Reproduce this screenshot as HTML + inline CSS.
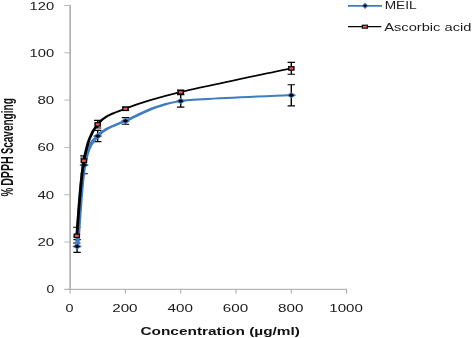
<!DOCTYPE html><html><head><meta charset="utf-8"><style>html,body{margin:0;padding:0;background:#fff}svg{display:block;will-change:transform}</style></head><body><svg width="472" height="338" viewBox="0 0 472 338">
<rect width="100%" height="100%" fill="#fff"/>
<g stroke="#a6a6a6" fill="none">
<line x1="70.1" y1="4.8" x2="70.1" y2="289.6" stroke-width="1.7" stroke="#b2b2b2"/>
<line x1="64.3" y1="289.3" x2="347.0" y2="289.3" stroke-width="1"/>
<line x1="64.3" y1="242.00" x2="70" y2="242.00" stroke-width="1" stroke="#b8b8b8"/>
<line x1="64.3" y1="194.70" x2="70" y2="194.70" stroke-width="1" stroke="#b8b8b8"/>
<line x1="64.3" y1="147.40" x2="70" y2="147.40" stroke-width="1" stroke="#b8b8b8"/>
<line x1="64.3" y1="100.10" x2="70" y2="100.10" stroke-width="1" stroke="#b8b8b8"/>
<line x1="64.3" y1="52.80" x2="70" y2="52.80" stroke-width="1" stroke="#b8b8b8"/>
<line x1="64.3" y1="5.50" x2="70" y2="5.50" stroke-width="1" stroke="#b8b8b8"/>
<line x1="70.10" y1="289.3" x2="70.10" y2="293.6" stroke-width="1"/>
<line x1="125.40" y1="289.3" x2="125.40" y2="293.6" stroke-width="1"/>
<line x1="180.70" y1="289.3" x2="180.70" y2="293.6" stroke-width="1"/>
<line x1="236.00" y1="289.3" x2="236.00" y2="293.6" stroke-width="1"/>
<line x1="291.30" y1="289.3" x2="291.30" y2="293.6" stroke-width="1"/>
<line x1="346.60" y1="289.3" x2="346.60" y2="293.6" stroke-width="1"/>
</g>
<g font-family="Liberation Sans, sans-serif" font-size="10.6" fill="#1a1a1a">
<text x="46.40" y="293.30" textLength="7.8" lengthAdjust="spacingAndGlyphs">0</text>
<text x="37.50" y="246.00" textLength="16.7" lengthAdjust="spacingAndGlyphs">20</text>
<text x="37.50" y="198.70" textLength="16.7" lengthAdjust="spacingAndGlyphs">40</text>
<text x="37.50" y="151.40" textLength="16.7" lengthAdjust="spacingAndGlyphs">60</text>
<text x="37.50" y="104.10" textLength="16.7" lengthAdjust="spacingAndGlyphs">80</text>
<text x="29.60" y="56.80" textLength="24.6" lengthAdjust="spacingAndGlyphs">100</text>
<text x="29.60" y="9.50" textLength="24.6" lengthAdjust="spacingAndGlyphs">120</text>
<text x="65.60" y="312.1" textLength="8.0" lengthAdjust="spacingAndGlyphs">0</text>
<text x="112.20" y="312.1" textLength="25.4" lengthAdjust="spacingAndGlyphs">200</text>
<text x="167.50" y="312.1" textLength="25.4" lengthAdjust="spacingAndGlyphs">400</text>
<text x="222.80" y="312.1" textLength="25.4" lengthAdjust="spacingAndGlyphs">600</text>
<text x="278.10" y="312.1" textLength="25.4" lengthAdjust="spacingAndGlyphs">800</text>
<text x="329.30" y="312.1" textLength="33.6" lengthAdjust="spacingAndGlyphs">1000</text>
</g>
<text x="140.4" y="335" font-family="Liberation Sans, sans-serif" font-weight="bold" font-size="11.6" fill="#111" textLength="159.6" lengthAdjust="spacingAndGlyphs">Concentration (µg/ml)</text>
<g transform="translate(12.8,0) rotate(-90)" font-family="Liberation Sans, sans-serif" font-weight="bold" font-size="16" fill="#111">
<text x="-196.5" y="0" textLength="8.8" lengthAdjust="spacingAndGlyphs">%</text>
<text x="-185.8" y="0" textLength="29.4" lengthAdjust="spacingAndGlyphs">DPPH</text>
<text x="-154.1" y="0" textLength="55.9" lengthAdjust="spacingAndGlyphs">S<tspan font-size="17.2">cavenging</tspan></text>
</g>
<path d="M77.10,239.60 V252.40" stroke="#000" stroke-width="1.4" fill="none"/>
<path d="M73.40,239.60 H80.80 M73.40,252.40 H80.80" stroke="#000" stroke-width="1.1" fill="none"/>
<path d="M84.20,158.00 V173.80" stroke="#000" stroke-width="1.4" fill="none"/>
<path d="M80.50,158.00 H87.90 M80.50,173.80 H87.90" stroke="#000" stroke-width="1.1" fill="none"/>
<path d="M97.70,130.40 V141.60" stroke="#000" stroke-width="1.4" fill="none"/>
<path d="M94.00,130.40 H101.40 M94.00,141.60 H101.40" stroke="#000" stroke-width="1.1" fill="none"/>
<path d="M125.50,117.60 V124.30" stroke="#000" stroke-width="1.4" fill="none"/>
<path d="M121.80,117.60 H129.20 M121.80,124.30 H129.20" stroke="#000" stroke-width="1.1" fill="none"/>
<path d="M180.70,94.70 V107.10" stroke="#000" stroke-width="1.4" fill="none"/>
<path d="M177.00,94.70 H184.40 M177.00,107.10 H184.40" stroke="#000" stroke-width="1.1" fill="none"/>
<path d="M291.30,84.80 V105.90" stroke="#000" stroke-width="1.4" fill="none"/>
<path d="M287.60,84.80 H295.00 M287.60,105.90 H295.00" stroke="#000" stroke-width="1.1" fill="none"/>
<path d="M76.80,227.30 V243.00" stroke="#000" stroke-width="1.4" fill="none"/>
<path d="M73.10,227.30 H80.50 M73.10,243.00 H80.50" stroke="#000" stroke-width="1.1" fill="none"/>
<path d="M83.90,155.90 V165.00" stroke="#000" stroke-width="1.4" fill="none"/>
<path d="M80.20,155.90 H87.60 M80.20,165.00 H87.60" stroke="#000" stroke-width="1.1" fill="none"/>
<path d="M97.70,120.40 V128.00" stroke="#000" stroke-width="1.4" fill="none"/>
<path d="M94.00,120.40 H101.40 M94.00,128.00 H101.40" stroke="#000" stroke-width="1.1" fill="none"/>
<path d="M125.50,107.00 V110.20" stroke="#000" stroke-width="1.4" fill="none"/>
<path d="M121.80,107.00 H129.20 M121.80,110.20 H129.20" stroke="#000" stroke-width="1.1" fill="none"/>
<path d="M180.70,90.00 V94.20" stroke="#000" stroke-width="1.4" fill="none"/>
<path d="M177.00,90.00 H184.40 M177.00,94.20 H184.40" stroke="#000" stroke-width="1.1" fill="none"/>
<path d="M291.30,62.40 V74.20" stroke="#000" stroke-width="1.4" fill="none"/>
<path d="M287.60,62.40 H295.00 M287.60,74.20 H295.00" stroke="#000" stroke-width="1.1" fill="none"/>
<path transform="scale(2.1,1)" d="M36.71,246.30 C37.28,232.72 38.46,183.20 40.10,164.80 C41.73,146.40 43.25,143.23 46.52,135.90 C49.80,128.57 53.17,126.63 59.76,120.80 C66.35,114.97 72.89,105.18 86.05,100.90 C93.28,98.54 129.94,96.07 138.71,95.10" stroke="#3f7cc4" stroke-width="2.05" fill="none" stroke-linecap="round"/>
<path d="M72.30,246.45 l4.80,-3.10 l4.80,3.10 l-4.80,3.10 z" fill="#3f7cc4"/>
<path d="M74.20,246.45 l2.90,-1.90 l2.90,1.90 l-2.90,1.90 z" fill="#000"/>
<path d="M79.40,164.95 l4.80,-3.10 l4.80,3.10 l-4.80,3.10 z" fill="#3f7cc4"/>
<path d="M81.30,164.95 l2.90,-1.90 l2.90,1.90 l-2.90,1.90 z" fill="#000"/>
<path d="M92.90,136.05 l4.80,-3.10 l4.80,3.10 l-4.80,3.10 z" fill="#3f7cc4"/>
<path d="M94.80,136.05 l2.90,-1.90 l2.90,1.90 l-2.90,1.90 z" fill="#000"/>
<path d="M120.70,120.95 l4.80,-3.10 l4.80,3.10 l-4.80,3.10 z" fill="#3f7cc4"/>
<path d="M122.60,120.95 l2.90,-1.90 l2.90,1.90 l-2.90,1.90 z" fill="#000"/>
<path d="M175.90,101.05 l4.80,-3.10 l4.80,3.10 l-4.80,3.10 z" fill="#3f7cc4"/>
<path d="M177.80,101.05 l2.90,-1.90 l2.90,1.90 l-2.90,1.90 z" fill="#000"/>
<path d="M286.50,95.25 l4.80,-3.10 l4.80,3.10 l-4.80,3.10 z" fill="#3f7cc4"/>
<path d="M288.40,95.25 l2.90,-1.90 l2.90,1.90 l-2.90,1.90 z" fill="#000"/>
<path transform="scale(1.8,1)" d="M42.67,235.60 C43.32,223.08 44.68,179.07 46.61,160.50 C48.55,141.93 50.43,132.85 54.28,124.20 C58.13,115.55 62.04,113.95 69.72,108.60 C77.41,103.25 85.04,98.83 100.39,92.10 C108.83,88.40 151.59,72.18 161.83,68.20" stroke="#000" stroke-width="1.6" fill="none" stroke-linecap="round"/>
<rect x="73.50" y="233.50" width="6.6" height="4.6" fill="#000"/>
<rect x="74.90" y="234.70" width="3.8" height="2.2" fill="#ee5a5c"/>
<rect x="80.60" y="158.40" width="6.6" height="4.6" fill="#000"/>
<rect x="82.00" y="159.60" width="3.8" height="2.2" fill="#ee5a5c"/>
<rect x="94.40" y="122.10" width="6.6" height="4.6" fill="#000"/>
<rect x="95.80" y="123.30" width="3.8" height="2.2" fill="#ee5a5c"/>
<rect x="122.20" y="106.50" width="6.6" height="4.6" fill="#000"/>
<rect x="123.60" y="107.70" width="3.8" height="2.2" fill="#ee5a5c"/>
<rect x="177.40" y="90.00" width="6.6" height="4.6" fill="#000"/>
<rect x="178.80" y="91.20" width="3.8" height="2.2" fill="#ee5a5c"/>
<rect x="288.00" y="66.10" width="6.6" height="4.6" fill="#000"/>
<rect x="289.40" y="67.30" width="3.8" height="2.2" fill="#ee5a5c"/>
<line x1="348" y1="5.8" x2="382" y2="5.8" stroke="#3f7cc4" stroke-width="1.75"/>
<path d="M361.70,5.80 l3.40,-3.10 l3.40,3.10 l-3.40,3.10 z" fill="#3f7cc4"/>
<path d="M362.90,5.80 l2.20,-1.55 l2.20,1.55 l-2.20,1.55 z" fill="#000"/>
<line x1="348" y1="26.6" x2="381.3" y2="26.6" stroke="#000" stroke-width="1.35"/>
<rect x="361.75" y="24.65" width="6.3" height="4.1" fill="#000"/>
<rect x="363.00" y="25.70" width="3.8" height="2.0" fill="#ee5a5c"/>
<g font-family="Liberation Sans, sans-serif" font-size="11.2" fill="#1c1c1c">
<text x="384.7" y="9.3" font-size="10.3" textLength="32" lengthAdjust="spacingAndGlyphs">MEIL</text>
<text x="384.2" y="30.7" font-size="10.9" textLength="87.2" lengthAdjust="spacingAndGlyphs">Ascorbic acid</text>
</g>
</svg></body></html>
